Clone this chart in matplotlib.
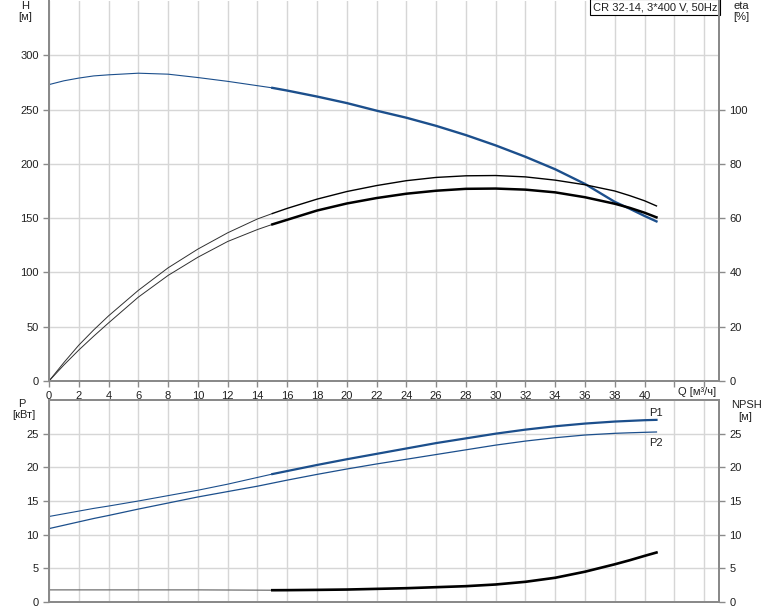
import matplotlib
matplotlib.use("Agg")
import matplotlib.pyplot as plt
import numpy as np

plt.rcParams['font.family'] = ['Liberation Sans', 'DejaVu Sans']

# data ------------------------------------------------------------
q = [0, 1, 2, 3, 4, 6, 8, 10, 12, 14, 15, 16, 18, 20, 22, 24, 26, 28, 30, 32, 34, 36, 38, 39, 40, 40.8]
head = [273, 276.5, 279, 281, 282, 283.5, 282.6, 279.5, 276, 272, 270, 267.5, 262, 256, 249, 242.5,
        235, 226.5, 217, 206.5, 195, 181.5, 165, 158.7, 152, 147]
eta_pump = [0, 6.8, 13.2, 18.8, 24, 33.4, 41.7, 48.6, 54.6, 59.7, 61.7, 63.6, 67, 69.8, 72, 73.8,
            75, 75.6, 75.7, 75.2, 74, 72.3, 70, 68.3, 66.4, 64.5]
eta_tot = [0, 5.9, 11.4, 16.5, 21.4, 30.9, 38.9, 45.6, 51.4, 55.8, 57.7, 59.4, 62.8, 65.4, 67.4, 69,
           70.1, 70.8, 70.9, 70.5, 69.5, 67.7, 65.3, 63.8, 62, 60.3]
p1 = [12.7, 13.1, 13.5, 13.9, 14.25, 15.0, 15.8, 16.6, 17.5, 18.5, 19.0, 19.45, 20.35, 21.2, 22.0,
      22.8, 23.6, 24.3, 25.0, 25.6, 26.1, 26.5, 26.8, 26.9, 27.0, 27.05]
p2 = [10.9, 11.4, 11.9, 12.4, 12.85, 13.8, 14.7, 15.6, 16.4, 17.2, 17.65, 18.1, 18.95, 19.75, 20.5,
      21.2, 21.9, 22.6, 23.3, 23.9, 24.4, 24.8, 25.05, 25.13, 25.2, 25.25]
npsh = [1.8, 1.8, 1.8, 1.8, 1.8, 1.8, 1.8, 1.8, 1.78, 1.76, 1.75, 1.76, 1.8, 1.85, 1.95, 2.05, 2.2,
        2.35, 2.6, 3.0, 3.6, 4.5, 5.6, 6.2, 6.85, 7.35]

q_start = 15  # operating range starts here (thick lines)
title = "CR 32-14, 3*400 V, 50Hz"

q = np.array(q)
thin = q <= q_start
thick = q >= q_start

blue = '#1c4f8c'
txt = '#202020'
grid_c = '#d6d6d6'
spine_c = '#8a8a8a'
fs = 8

W, Hh = 774, 611
fig = plt.figure(figsize=(W / 100, Hh / 100), dpi=100)
ax1 = fig.add_axes([49 / W, (Hh - 381) / Hh, 670 / W, 380 / Hh])
ax2 = fig.add_axes([49 / W, (Hh - 602) / Hh, 670 / W, 202 / Hh])


def style(ax):
  ax.set_xlim(0, 45)
  ax.set_xticks(np.arange(0, 45, 2))
  ax.grid(True, color=grid_c, lw=1.0)
  ax.set_axisbelow(True)
  for s in ax.spines.values():
    s.set_color(spine_c)
    s.set_linewidth(1.4)
  ax.tick_params(colors=spine_c, labelcolor=txt, labelsize=fs, length=4, width=1)


# top panel: head and efficiency -----------------------------------
style(ax1)
ax1.set_ylim(0, 350)
ax1.set_yticks(np.arange(0, 301, 50))
ax1.set_xticklabels([str(v) if v <= 40 else '' for v in range(0, 45, 2)])
ax1.spines['top'].set_visible(False)
h = np.array(head)
ax1.plot(q[thin], h[thin], color=blue, lw=0.8)
ax1.plot(q[thick], h[thick], color=blue, lw=1.7)

ax1r = ax1.twinx()
ax1r.set_ylim(0, 140)
ax1r.set_yticks(np.arange(0, 101, 20))
ax1r.spines['top'].set_visible(False)
for s in ax1r.spines.values():
  s.set_color(spine_c)
  s.set_linewidth(1.4)
ax1r.tick_params(colors=spine_c, labelcolor=txt, labelsize=fs, length=4, width=1)
ep = np.array(eta_pump)
et = np.array(eta_tot)
ax1r.plot(q[thin], ep[thin], color='#303030', lw=0.7)
ax1r.plot(q[thick], ep[thick], color='black', lw=1.0)
ax1r.plot(q[thin], et[thin], color='#303030', lw=0.7)
ax1r.plot(q[thick], et[thick], color='black', lw=1.8)

ax1.text(0.998, 0.997, title, transform=ax1.transAxes, ha='right', va='top',
         fontsize=fs, color=txt,
         bbox=dict(boxstyle='square,pad=0.25', fc='white', ec='black', lw=0.8))

# bottom panel: power and NPSH --------------------------------------
style(ax2)
ax2.set_ylim(0, 30)
ax2.set_yticks(np.arange(0, 26, 5))
ax2.set_xticklabels([])
ax2.tick_params(axis='x', length=0)
a1 = np.array(p1)
a2 = np.array(p2)
ax2.plot(q[thin], a1[thin], color=blue, lw=0.8)
ax2.plot(q[thick], a1[thick], color=blue, lw=1.6)
ax2.plot(q, a2, color=blue, lw=0.9)
ax2.annotate("P1", (q[-1], a1[-1]), xytext=(-5, 3), textcoords="offset points",
             fontsize=fs, color=txt)
ax2.annotate("P2", (q[-1], a2[-1]), xytext=(-5, -10), textcoords="offset points",
             fontsize=fs, color=txt)

ax2r = ax2.twinx()
ax2r.set_ylim(0, 30)
ax2r.set_yticks(np.arange(0, 26, 5))
for s in ax2r.spines.values():
  s.set_color(spine_c)
  s.set_linewidth(1.4)
ax2r.tick_params(colors=spine_c, labelcolor=txt, labelsize=fs, length=4, width=1)
n = np.array(npsh)
ax2r.plot(q[thin], n[thin], color='#707070', lw=0.9)
ax2r.plot(q[thick], n[thick], color='black', lw=1.9)

# axis titles --------------------------------------------------------
def ftext(x, y, s):
  fig.text(x / W, 1 - y / Hh, s, ha='center', va='center', fontsize=fs, color=txt)

ftext(25, 6, "H")
ftext(25, 17, "[м]")
ftext(741, 6, "eta")
ftext(741, 17, "[%]")
ftext(22, 404, "P")
ftext(24, 415, "[кВт]")
ftext(746, 405, "NPSH")
ftext(745, 417, "[м]")
fig.text(678 / W, 1 - 392 / Hh, "Q [м³/ч]", ha='left', va='center', fontsize=fs, color=txt)

fig.savefig("out.png", dpi=100)
